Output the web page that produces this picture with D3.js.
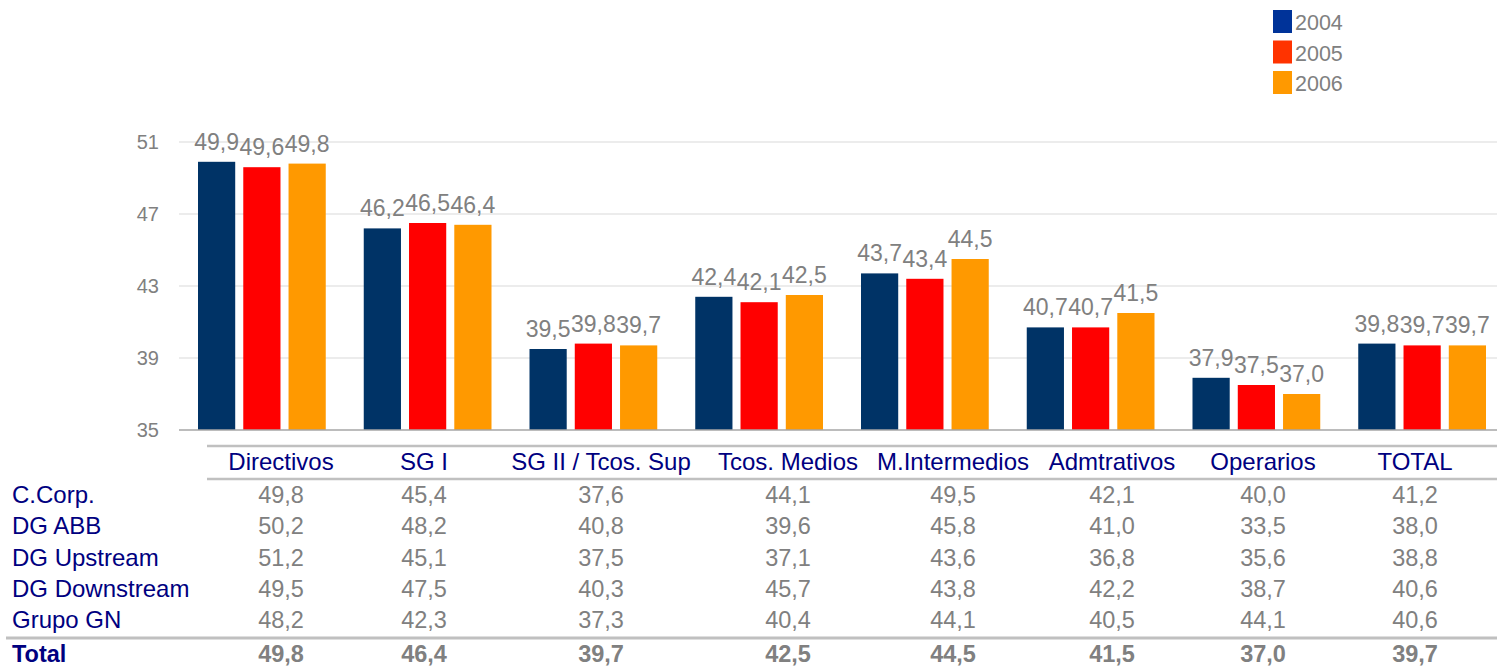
<!DOCTYPE html>
<html>
<head>
<meta charset="utf-8">
<script src="https://cdn.jsdelivr.net/npm/d3@7"></script>
<style>
  body { margin: 0; background: #fff; }
  svg { display: block; font-family: "Liberation Sans", Arial, sans-serif; }
</style>
</head>
<body>
<div id="chart"></div>
<script>
// chart data
const categories = ["Directivos", "SG I", "SG II / Tcos. Sup", "Tcos. Medios", "M.Intermedios", "Admtrativos", "Operarios", "TOTAL"];
const years = ["2004", "2005", "2006"];
const v2004 = [49.9, 46.2, 39.5, 42.4, 43.7, 40.7, 37.9, 39.8];
const v2005 = [49.6, 46.5, 39.8, 42.1, 43.4, 40.7, 37.5, 39.7];
const v2006 = [49.8, 46.4, 39.7, 42.5, 44.5, 41.5, 37.0, 39.7];
const yTicks = [35, 39, 43, 47, 51];

// table data
const rowLabels = ["C.Corp.", "DG ABB", "DG Upstream", "DG Downstream", "Grupo GN"];
const rowCCorp = [49.8, 45.4, 37.6, 44.1, 49.5, 42.1, 40.0, 41.2];
const rowABB = [50.2, 48.2, 40.8, 39.6, 45.8, 41.0, 33.5, 38.0];
const rowUpstream = [51.2, 45.1, 37.5, 37.1, 43.6, 36.8, 35.6, 38.8];
const rowDownstream = [49.5, 47.5, 40.3, 45.7, 43.8, 42.2, 38.7, 40.6];
const rowGrupoGN = [48.2, 42.3, 37.3, 40.4, 44.1, 40.5, 44.1, 40.6];
const rowTotal = [49.8, 46.4, 39.7, 42.5, 44.5, 41.5, 37.0, 39.7];

const series = [v2004, v2005, v2006];
const tableRows = [rowCCorp, rowABB, rowUpstream, rowDownstream, rowGrupoGN];

const width = 1498, height = 666;
const barColors = ["#003366", "#ff0000", "#ff9900"];
const legendColors = ["#003399", "#ff3300", "#ff9900"];
const grey = "#808080", navy = "#000080";

const fmt = v => d3.format(".1f")(v).replace(".", ",");

const svg = d3.select("#chart").append("svg")
    .attr("width", width)
    .attr("height", height);

// scales
const y = d3.scaleLinear().domain([35, 51]).range([430, 142]);
const x0 = d3.scaleBand().domain(categories).range([179, 1505]);
const x1 = d3.scaleBand().domain(years).range([19, x0.bandwidth() - 19]).paddingInner(0.178);
// table column centres (layout, not data)
const colX = d3.scaleOrdinal().domain(categories).range([281, 424, 601, 788, 953, 1112, 1263, 1415]);

// gridlines + tick labels
const grid = svg.append("g");
grid.selectAll("line")
    .data(yTicks.filter(d => d !== 35))
    .enter().append("line")
    .attr("x1", 179).attr("x2", 1497)
    .attr("y1", d => y(d)).attr("y2", d => y(d))
    .attr("stroke", "#d9d9d9")
    .attr("stroke-width", 1);

grid.selectAll("text")
    .data(yTicks)
    .enter().append("text")
    .attr("x", 159)
    .attr("y", d => y(d))
    .attr("dy", ".36em")
    .attr("text-anchor", "end")
    .style("font-size", "20px")
    .style("fill", grey)
    .text(d => d);

// bars
const groups = svg.selectAll(".grp")
    .data(categories)
    .enter().append("g")
    .attr("class", "grp")
    .attr("transform", d => `translate(${x0(d)},0)`);

groups.selectAll("rect")
    .data((d, i) => series.map((s, k) => ({ year: years[k], k, v: s[i] })))
    .enter().append("rect")
    .attr("x", d => x1(d.year))
    .attr("width", x1.bandwidth())
    .attr("y", d => y(d.v))
    .attr("height", d => y(35) - y(d.v))
    .attr("fill", d => barColors[d.k]);

groups.selectAll("text")
    .data((d, i) => series.map((s, k) => ({ year: years[k], k, v: s[i] })))
    .enter().append("text")
    .attr("x", d => x1(d.year) + x1.bandwidth() / 2)
    .attr("y", d => y(d.v) - 12)
    .attr("text-anchor", "middle")
    .style("font-size", "23px")
    .style("fill", grey)
    .text(d => fmt(d.v));

// baseline
svg.append("line")
    .attr("x1", 179).attr("x2", 1497)
    .attr("y1", y(35)).attr("y2", y(35))
    .attr("stroke", "#a6a6a6")
    .attr("stroke-width", 1.5);

// legend
const legend = svg.append("g").attr("transform", "translate(1273,10)");
const li = legend.selectAll("g")
    .data(years)
    .enter().append("g")
    .attr("transform", (d, i) => `translate(0,${i * 30.5})`);
li.append("rect")
    .attr("width", 19).attr("height", 23)
    .attr("fill", (d, i) => legendColors[i]);
li.append("text")
    .attr("x", 22).attr("y", 20)
    .style("font-size", "21.5px")
    .style("fill", grey)
    .text(d => d);

// table
const tbl = svg.append("g");
tbl.append("line")
    .attr("x1", 207).attr("x2", 1497).attr("y1", 446).attr("y2", 446)
    .attr("stroke", "#c0c0c0").attr("stroke-width", 2.5);
tbl.append("line")
    .attr("x1", 207).attr("x2", 1497).attr("y1", 479).attr("y2", 479)
    .attr("stroke", "#c0c0c0").attr("stroke-width", 2.5);
tbl.append("line")
    .attr("x1", 6).attr("x2", 1497).attr("y1", 638).attr("y2", 638)
    .attr("stroke", "#c0c0c0").attr("stroke-width", 3);

tbl.selectAll(".hdr")
    .data(categories)
    .enter().append("text")
    .attr("class", "hdr")
    .attr("x", d => colX(d))
    .attr("y", 470)
    .attr("text-anchor", "middle")
    .style("font-size", "24px")
    .style("fill", navy)
    .text(d => d);

const rowY = d3.scalePoint().domain(rowLabels).range([503, 628]);

const rows = tbl.selectAll(".row")
    .data(tableRows)
    .enter().append("g")
    .attr("class", "row")
    .attr("transform", (d, i) => `translate(0,${rowY(rowLabels[i])})`);

rows.append("text")
    .attr("x", 12)
    .style("font-size", "24px")
    .style("fill", navy)
    .text((d, i) => rowLabels[i]);

rows.selectAll(".val")
    .data(d => d)
    .enter().append("text")
    .attr("class", "val")
    .attr("x", (d, j) => colX(categories[j]))
    .attr("text-anchor", "middle")
    .style("font-size", "23.5px")
    .style("fill", grey)
    .text(d => fmt(d));

const total = tbl.append("g").attr("transform", "translate(0,662)");
total.append("text")
    .attr("x", 12)
    .style("font-size", "23.5px")
    .style("font-weight", "bold")
    .style("fill", navy)
    .text("Total");
total.selectAll(".val")
    .data(rowTotal)
    .enter().append("text")
    .attr("class", "val")
    .attr("x", (d, j) => colX(categories[j]))
    .attr("text-anchor", "middle")
    .style("font-size", "23.5px")
    .style("font-weight", "bold")
    .style("fill", grey)
    .text(d => fmt(d));
</script>
</body>
</html>
